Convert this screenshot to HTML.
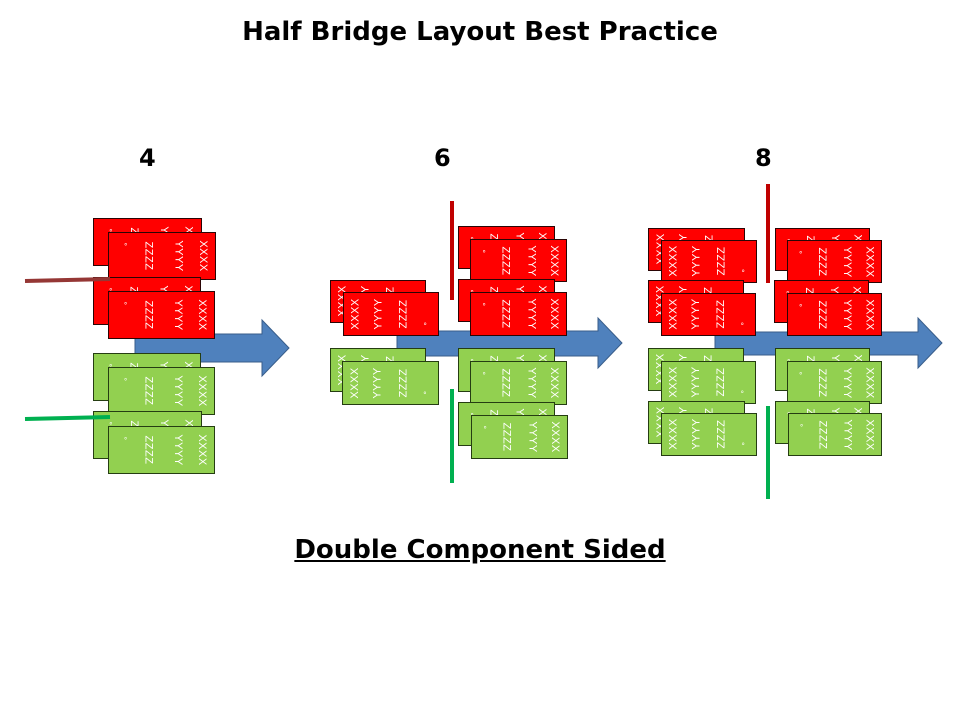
<!DOCTYPE html>
<html><head><meta charset="utf-8"><style>
body{margin:0;width:960px;height:720px;background:#fff;position:relative;overflow:hidden;font-family:"DejaVu Sans","Liberation Sans",sans-serif}
.t{position:absolute;font-weight:bold;color:#000;white-space:nowrap}
.c{position:absolute;box-sizing:border-box;overflow:hidden}
.red{background:#ff0000;border:1.5px solid #2a0505}
.grn{background:#92d050;border:1.5px solid #253d12}
.c .in{position:absolute;left:0;top:0;right:0;bottom:0}
.l .in{transform:rotate(180deg)}
.c span{position:absolute;top:50%;writing-mode:vertical-rl;transform:translate(-50%,-50%);color:#fff;font-family:"Liberation Sans",sans-serif;font-size:11px;letter-spacing:0.5px;line-height:11px}
.c span.o{top:8px;transform:translateX(-50%);font-size:8px;writing-mode:horizontal-tb}
.ln{position:absolute}
</style></head><body>
<div class="t" style="left:0;width:960px;text-align:center;top:17px;font-size:26px">Half Bridge Layout Best Practice</div>
<div class="t" style="left:139px;top:144px;font-size:24px">4</div>
<div class="t" style="left:434px;top:144px;font-size:24px">6</div>
<div class="t" style="left:755px;top:144px;font-size:24px">8</div>
<div class="t" style="left:0;width:960px;text-align:center;top:535px;font-size:26px;text-decoration:underline">Double Component Sided</div>

<svg width="960" height="720" style="position:absolute;left:0;top:0">
<polygon points="135,334 262,334 262,320 289,348 262,376 262,362 135,362" fill="#4f81bd" stroke="#385d8a"/>
<polygon points="397,331 598,331 598,318 622,343 598,368 598,356 397,356" fill="#4f81bd" stroke="#385d8a"/>
<polygon points="715,332 918,332 918,318 942,343 918,368 918,355 715,355" fill="#4f81bd" stroke="#385d8a"/>
</svg>

<!-- section 1 -->
<div class="c red r" style="left:93px;top:218px;width:109px;height:48px"><div class="in"><span class="o" style="left:16%">°</span><span style="left:37%">ZZZZ</span><span style="left:65%">YYYY</span><span style="left:88%">XXXX</span></div></div>
<div class="c red r" style="left:108px;top:232px;width:108px;height:48px"><div class="in"><span class="o" style="left:16%">°</span><span style="left:37%">ZZZZ</span><span style="left:65%">YYYY</span><span style="left:88%">XXXX</span></div></div>
<div class="c red r" style="left:93px;top:277px;width:108px;height:48px"><div class="in"><span class="o" style="left:16%">°</span><span style="left:37%">ZZZZ</span><span style="left:65%">YYYY</span><span style="left:88%">XXXX</span></div></div>
<div class="c red r" style="left:108px;top:291px;width:107px;height:48px"><div class="in"><span class="o" style="left:16%">°</span><span style="left:37%">ZZZZ</span><span style="left:65%">YYYY</span><span style="left:88%">XXXX</span></div></div>
<div class="c grn r" style="left:93px;top:353px;width:108px;height:48px"><div class="in"><span class="o" style="left:16%">°</span><span style="left:37%">ZZZZ</span><span style="left:65%">YYYY</span><span style="left:88%">XXXX</span></div></div>
<div class="c grn r" style="left:108px;top:367px;width:107px;height:48px"><div class="in"><span class="o" style="left:16%">°</span><span style="left:37%">ZZZZ</span><span style="left:65%">YYYY</span><span style="left:88%">XXXX</span></div></div>
<div class="c grn r" style="left:93px;top:411px;width:109px;height:48px"><div class="in"><span class="o" style="left:16%">°</span><span style="left:37%">ZZZZ</span><span style="left:65%">YYYY</span><span style="left:88%">XXXX</span></div></div>
<div class="c grn r" style="left:108px;top:426px;width:107px;height:48px"><div class="in"><span class="o" style="left:16%">°</span><span style="left:37%">ZZZZ</span><span style="left:65%">YYYY</span><span style="left:88%">XXXX</span></div></div>
<svg width="960" height="720" style="position:absolute;left:0;top:0">
<line x1="25" y1="281" x2="110" y2="279" stroke="#953735" stroke-width="4"/>
<line x1="25" y1="419" x2="110" y2="417" stroke="#00b050" stroke-width="4"/>
</svg>

<!-- section 2 -->
<div class="ln" style="left:450px;top:201px;width:4px;height:99px;background:#c00000"></div>
<div class="ln" style="left:450px;top:389px;width:4px;height:94px;background:#00b050"></div>
<div class="c red l" style="left:330px;top:280px;width:96px;height:43px"><div class="in"><span class="o" style="left:14%">°</span><span style="left:36%">ZZZZ</span><span style="left:63%">YYYY</span><span style="left:87%">XXXX</span></div></div>
<div class="c red l" style="left:343px;top:292px;width:96px;height:44px"><div class="in"><span class="o" style="left:14%">°</span><span style="left:36%">ZZZZ</span><span style="left:63%">YYYY</span><span style="left:87%">XXXX</span></div></div>
<div class="c red r" style="left:458px;top:226px;width:97px;height:43px"><div class="in"><span class="o" style="left:14%">°</span><span style="left:36%">ZZZZ</span><span style="left:63%">YYYY</span><span style="left:87%">XXXX</span></div></div>
<div class="c red r" style="left:470px;top:239px;width:97px;height:43px"><div class="in"><span class="o" style="left:14%">°</span><span style="left:36%">ZZZZ</span><span style="left:63%">YYYY</span><span style="left:87%">XXXX</span></div></div>
<div class="c red r" style="left:458px;top:279px;width:97px;height:43px"><div class="in"><span class="o" style="left:14%">°</span><span style="left:36%">ZZZZ</span><span style="left:63%">YYYY</span><span style="left:87%">XXXX</span></div></div>
<div class="c red r" style="left:470px;top:292px;width:97px;height:44px"><div class="in"><span class="o" style="left:14%">°</span><span style="left:36%">ZZZZ</span><span style="left:63%">YYYY</span><span style="left:87%">XXXX</span></div></div>
<div class="c grn l" style="left:330px;top:348px;width:96px;height:44px"><div class="in"><span class="o" style="left:14%">°</span><span style="left:36%">ZZZZ</span><span style="left:63%">YYYY</span><span style="left:87%">XXXX</span></div></div>
<div class="c grn l" style="left:342px;top:361px;width:97px;height:44px"><div class="in"><span class="o" style="left:14%">°</span><span style="left:36%">ZZZZ</span><span style="left:63%">YYYY</span><span style="left:87%">XXXX</span></div></div>
<div class="c grn r" style="left:458px;top:348px;width:97px;height:44px"><div class="in"><span class="o" style="left:14%">°</span><span style="left:36%">ZZZZ</span><span style="left:63%">YYYY</span><span style="left:87%">XXXX</span></div></div>
<div class="c grn r" style="left:470px;top:361px;width:97px;height:44px"><div class="in"><span class="o" style="left:14%">°</span><span style="left:36%">ZZZZ</span><span style="left:63%">YYYY</span><span style="left:87%">XXXX</span></div></div>
<div class="c grn r" style="left:458px;top:402px;width:97px;height:44px"><div class="in"><span class="o" style="left:14%">°</span><span style="left:36%">ZZZZ</span><span style="left:63%">YYYY</span><span style="left:87%">XXXX</span></div></div>
<div class="c grn r" style="left:471px;top:415px;width:97px;height:44px"><div class="in"><span class="o" style="left:14%">°</span><span style="left:36%">ZZZZ</span><span style="left:63%">YYYY</span><span style="left:87%">XXXX</span></div></div>

<!-- section 3 -->
<div class="ln" style="left:766px;top:184px;width:4px;height:99px;background:#c00000"></div>
<div class="ln" style="left:766px;top:406px;width:4px;height:93px;background:#00b050"></div>
<div class="c red l" style="left:648px;top:228px;width:97px;height:43px"><div class="in"><span class="o" style="left:14%">°</span><span style="left:36%">ZZZZ</span><span style="left:63%">YYYY</span><span style="left:87%">XXXX</span></div></div>
<div class="c red l" style="left:661px;top:240px;width:96px;height:43px"><div class="in"><span class="o" style="left:14%">°</span><span style="left:36%">ZZZZ</span><span style="left:63%">YYYY</span><span style="left:87%">XXXX</span></div></div>
<div class="c red l" style="left:648px;top:280px;width:96px;height:43px"><div class="in"><span class="o" style="left:14%">°</span><span style="left:36%">ZZZZ</span><span style="left:63%">YYYY</span><span style="left:87%">XXXX</span></div></div>
<div class="c red l" style="left:661px;top:293px;width:95px;height:43px"><div class="in"><span class="o" style="left:14%">°</span><span style="left:36%">ZZZZ</span><span style="left:63%">YYYY</span><span style="left:87%">XXXX</span></div></div>
<div class="c red r" style="left:775px;top:228px;width:95px;height:43px"><div class="in"><span class="o" style="left:14%">°</span><span style="left:36%">ZZZZ</span><span style="left:63%">YYYY</span><span style="left:87%">XXXX</span></div></div>
<div class="c red r" style="left:787px;top:240px;width:95px;height:43px"><div class="in"><span class="o" style="left:14%">°</span><span style="left:36%">ZZZZ</span><span style="left:63%">YYYY</span><span style="left:87%">XXXX</span></div></div>
<div class="c red r" style="left:774px;top:280px;width:95px;height:43px"><div class="in"><span class="o" style="left:14%">°</span><span style="left:36%">ZZZZ</span><span style="left:63%">YYYY</span><span style="left:87%">XXXX</span></div></div>
<div class="c red r" style="left:787px;top:293px;width:95px;height:43px"><div class="in"><span class="o" style="left:14%">°</span><span style="left:36%">ZZZZ</span><span style="left:63%">YYYY</span><span style="left:87%">XXXX</span></div></div>
<div class="c grn l" style="left:648px;top:348px;width:96px;height:43px"><div class="in"><span class="o" style="left:14%">°</span><span style="left:36%">ZZZZ</span><span style="left:63%">YYYY</span><span style="left:87%">XXXX</span></div></div>
<div class="c grn l" style="left:661px;top:361px;width:95px;height:43px"><div class="in"><span class="o" style="left:14%">°</span><span style="left:36%">ZZZZ</span><span style="left:63%">YYYY</span><span style="left:87%">XXXX</span></div></div>
<div class="c grn l" style="left:648px;top:401px;width:97px;height:43px"><div class="in"><span class="o" style="left:14%">°</span><span style="left:36%">ZZZZ</span><span style="left:63%">YYYY</span><span style="left:87%">XXXX</span></div></div>
<div class="c grn l" style="left:661px;top:413px;width:96px;height:43px"><div class="in"><span class="o" style="left:14%">°</span><span style="left:36%">ZZZZ</span><span style="left:63%">YYYY</span><span style="left:87%">XXXX</span></div></div>
<div class="c grn r" style="left:775px;top:348px;width:95px;height:43px"><div class="in"><span class="o" style="left:14%">°</span><span style="left:36%">ZZZZ</span><span style="left:63%">YYYY</span><span style="left:87%">XXXX</span></div></div>
<div class="c grn r" style="left:787px;top:361px;width:95px;height:43px"><div class="in"><span class="o" style="left:14%">°</span><span style="left:36%">ZZZZ</span><span style="left:63%">YYYY</span><span style="left:87%">XXXX</span></div></div>
<div class="c grn r" style="left:775px;top:401px;width:95px;height:43px"><div class="in"><span class="o" style="left:14%">°</span><span style="left:36%">ZZZZ</span><span style="left:63%">YYYY</span><span style="left:87%">XXXX</span></div></div>
<div class="c grn r" style="left:788px;top:413px;width:94px;height:43px"><div class="in"><span class="o" style="left:14%">°</span><span style="left:36%">ZZZZ</span><span style="left:63%">YYYY</span><span style="left:87%">XXXX</span></div></div>
</body></html>
